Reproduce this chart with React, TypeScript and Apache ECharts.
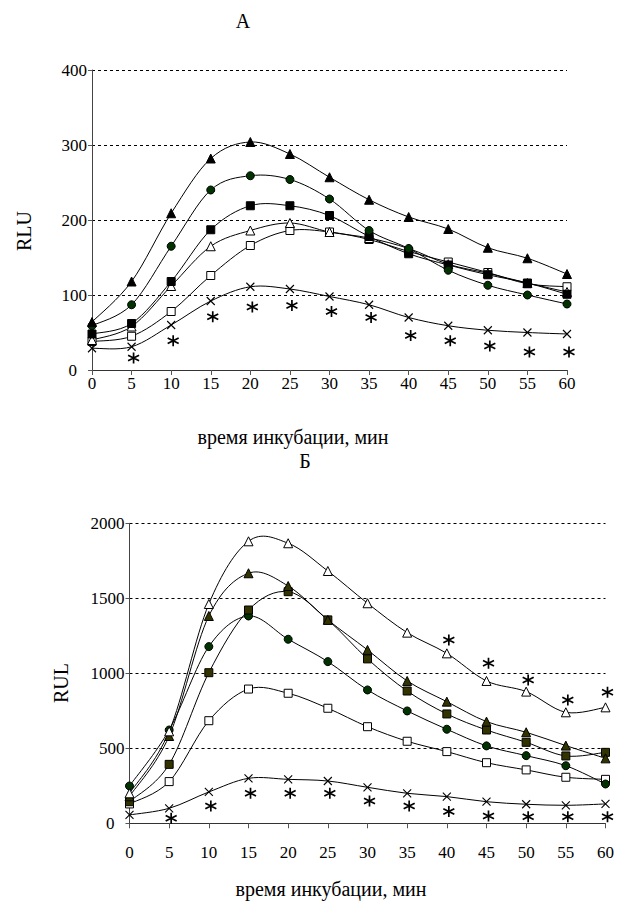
import React, { useEffect, useRef } from "react";
import * as echarts from "echarts";

const FONT = "Liberation Serif";

const minutes = [0, 5, 10, 15, 20, 25, 30, 35, 40, 45, 50, 55, 60];

// Panel A (RLU)
const aTriFilled = [64, 118, 209, 282, 304, 288, 257, 227, 204, 188, 163, 149, 128];
const aCircle = [59, 87, 165, 240, 259, 254, 228, 186, 162, 133, 113, 100, 88];
const aSqFilled = [48, 62, 118, 187, 219, 219, 206, 178, 155, 140, 127, 116, 101];
const aTriOpen = [40, 58, 112, 165, 186, 196, 184, 176, 162, 141, 129, 116, 104];
const aSqOpen = [38, 45, 78, 126, 166, 186, 184, 174, 158, 144, 130, 115, 111];
const aCross = [29, 31, 60, 92, 111, 108, 98, 87, 70, 59, 53, 50, 48];
const aStarX = [5, 10, 15, 20, 25, 30, 35, 40, 45, 50, 55, 60];
const aStar = [16, 39, 71, 84, 86, 78, 70, 46, 39, 32, 24, 24];

// Panel Б (RUL)
const bTriOpen = [200, 613, 1462, 1880, 1867, 1682, 1467, 1271, 1133, 949, 878, 740, 773];
const bTriFilled = [180, 582, 1382, 1667, 1582, 1356, 1156, 949, 811, 678, 607, 518, 433];
const bSqFilled = [144, 393, 1004, 1422, 1544, 1356, 1096, 882, 729, 622, 540, 449, 473];
const bCircle = [249, 622, 1178, 1382, 1227, 1078, 889, 749, 627, 516, 451, 384, 262];
const bSqOpen = [129, 278, 684, 895, 867, 767, 644, 547, 478, 404, 356, 307, 293];
const bCross = [56, 100, 209, 300, 293, 282, 240, 200, 178, 144, 127, 120, 129];
const bStarLowX = [5, 10, 15, 20, 25, 30, 35, 40, 45, 50, 55, 60];
const bStarLow = [33, 116, 200, 200, 200, 149, 116, 78, 49, 44, 44, 44];
const bStarHighX = [40, 45, 50, 55, 60];
const bStarHigh = [1222, 1067, 956, 822, 873];

const yTicksA = { min: 0, max: 400, interval: 100 };
const yTicksB = { min: 0, max: 2000, interval: 500 };
const xTicks = { min: 0, max: 60, interval: 5 };

const CROSS = "path://M0,0L10,10M10,0L0,10";
const STAR = "path://M5,0L5,10M0.67,2.5L9.33,7.5M0.67,7.5L9.33,2.5";

// Smoothed (Catmull-Rom style) curve drawn through the axis scales
function curveSeries(vals: number[], grid: number) {
  const pts = minutes.map((m, i) => [m, vals[i]]);
  return {
    type: "custom",
    xAxisIndex: grid,
    yAxisIndex: grid,
    data: pts,
    clip: false,
    silent: true,
    z: 2,
    renderItem: (params: any, api: any) => {
      if (params.dataIndex !== 0) return null;
      const c = pts.map((p) => api.coord(p));
      const n = c.length;
      const t = 1 / 6;
      let d = `M${c[0][0]},${c[0][1]}`;
      for (let i = 0; i < n - 1; i++) {
        const p0 = c[Math.max(i - 1, 0)];
        const p1 = c[i];
        const p2 = c[i + 1];
        const p3 = c[Math.min(i + 2, n - 1)];
        const c1x = p1[0] + (p2[0] - p0[0]) * t;
        const c1y = p1[1] + (p2[1] - p0[1]) * t;
        const c2x = p2[0] - (p3[0] - p1[0]) * t;
        const c2y = p2[1] - (p3[1] - p1[1]) * t;
        d += ` C${c1x},${c1y} ${c2x},${c2y} ${p2[0]},${p2[1]}`;
      }
      return {
        type: "path",
        shape: { pathData: d },
        style: { fill: "none", stroke: "#000", lineWidth: 1 },
      };
    },
  };
}

function markerSeries(
  vals: number[],
  grid: number,
  symbol: string,
  size: number,
  fill: string,
  borderWidth = 1
) {
  return {
    type: "scatter",
    xAxisIndex: grid,
    yAxisIndex: grid,
    data: minutes.map((m, i) => [m, vals[i]]),
    symbol,
    symbolSize: size,
    itemStyle: { color: fill, borderColor: "#000", borderWidth, opacity: 1 },
    emphasis: { disabled: true },
    z: 3,
  };
}

function starSeries(xs: number[], vals: number[], grid: number) {
  return {
    type: "scatter",
    xAxisIndex: grid,
    yAxisIndex: grid,
    data: xs.map((m, i) => [m, vals[i]]),
    symbol: STAR,
    symbolSize: 11,
    symbolOffset: [2, 0],
    itemStyle: { color: "#000", borderColor: "#000", borderWidth: 1.7, opacity: 1 },
    emphasis: { disabled: true },
    z: 4,
  };
}

function xAxis(grid: number, margin: number) {
  return {
    type: "value",
    gridIndex: grid,
    ...xTicks,
    axisLine: { show: true, lineStyle: { color: "#333", width: 1 } },
    axisTick: { show: true, inside: false, length: 5, lineStyle: { color: "#555" } },
    axisLabel: { margin, fontSize: 17, fontFamily: FONT, color: "#000" },
    splitLine: { show: false },
  };
}

function yAxis(grid: number, ticks: { min: number; max: number; interval: number }) {
  return {
    type: "value",
    gridIndex: grid,
    ...ticks,
    axisLine: { show: true, lineStyle: { color: "#444", width: 1 } },
    axisTick: { show: true, inside: false, length: 4, lineStyle: { color: "#555" } },
    axisLabel: {
      margin: 5,
      fontSize: 17,
      fontFamily: FONT,
      color: "#000",
      formatter: (v: number) => (v === 0 ? "{z|0}" : String(v)),
      rich: { z: { padding: [0, 10, 0, 0], fontSize: 17, fontFamily: FONT, color: "#000" } },
    },
    splitLine: { show: true, lineStyle: { color: "#000", width: 1, type: [3, 3] } },
  };
}

function label(text: string, x: number, y: number, size: number, rotation = 0) {
  return {
    type: "text",
    x,
    y,
    rotation,
    style: {
      text,
      fontSize: size,
      fontFamily: FONT,
      fill: "#000",
      align: "center",
      verticalAlign: "middle",
      textAlign: "center",
      textVerticalAlign: "middle",
    },
  };
}

export default function App() {
  const ref = useRef<HTMLDivElement>(null);
  useEffect(() => {
    if (!ref.current) return;
    const chart = echarts.init(ref.current, null, { renderer: "svg" });
    chart.setOption({
      animation: false,
      backgroundColor: "#fff",
      grid: [
        { left: 92, top: 70, width: 475, height: 300 },
        { left: 129.5, top: 523.3, width: 476, height: 300 },
      ],
      xAxis: [xAxis(0, 5), xAxis(1, 21)],
      yAxis: [yAxis(0, yTicksA), yAxis(1, yTicksB)],
      graphic: [
        label("А", 243, 21, 20),
        label("Б", 305, 461, 20),
        label("RLU", 24, 231, 20, Math.PI / 2),
        label("RUL", 61, 683, 20, Math.PI / 2),
        label("время инкубации, мин", 293, 437, 20),
        label("время инкубации, мин", 331, 889, 20),
      ],
      series: [
        curveSeries(aSqOpen, 0),
        curveSeries(aTriOpen, 0),
        curveSeries(aSqFilled, 0),
        curveSeries(aCircle, 0),
        curveSeries(aTriFilled, 0),
        curveSeries(aCross, 0),
        markerSeries(aSqOpen, 0, "rect", 8, "#fff"),
        markerSeries(aTriOpen, 0, "triangle", 9, "#fff"),
        markerSeries(aSqFilled, 0, "rect", 8, "#000"),
        markerSeries(aCircle, 0, "circle", 8, "#003300"),
        markerSeries(aTriFilled, 0, "triangle", 9, "#000"),
        markerSeries(aCross, 0, CROSS, 8, "#000", 1.1),
        starSeries(aStarX, aStar, 0),

        curveSeries(bSqOpen, 1),
        curveSeries(bCircle, 1),
        curveSeries(bSqFilled, 1),
        curveSeries(bTriFilled, 1),
        curveSeries(bTriOpen, 1),
        curveSeries(bCross, 1),
        markerSeries(bSqOpen, 1, "rect", 8, "#fff"),
        markerSeries(bCircle, 1, "circle", 8, "#003300"),
        markerSeries(bSqFilled, 1, "rect", 8, "#333300"),
        markerSeries(bTriFilled, 1, "triangle", 9, "#333300"),
        markerSeries(bTriOpen, 1, "triangle", 9, "#fff"),
        markerSeries(bCross, 1, CROSS, 8, "#000", 1.1),
        starSeries(bStarLowX, bStarLow, 1),
        starSeries(bStarHighX, bStarHigh, 1),
      ],
    });
    return () => chart.dispose();
  }, []);
  return (
    <div
      ref={ref}
      style={{ position: "fixed", left: 0, top: 0, width: 622, height: 902, background: "#fff" }}
    />
  );
}
